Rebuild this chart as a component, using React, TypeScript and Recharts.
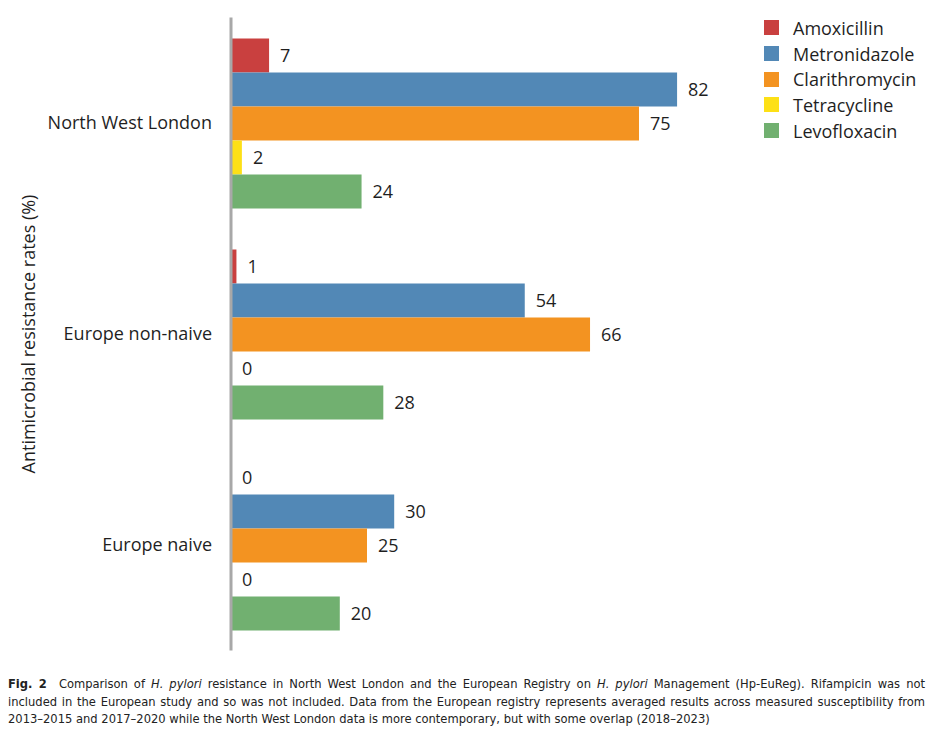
import React from 'react';
import { BarChart, Bar, XAxis, YAxis, LabelList, Label } from 'recharts';

// Categories and series values
const CATEGORIES = ['North West London', 'Europe non-naive', 'Europe naive'];
const AMOXICILLIN = [7, 1, 0];
const METRONIDAZOLE = [82, 54, 30];
const CLARITHROMYCIN = [75, 66, 25];
const TETRACYCLINE = [2, 0, 0];
const LEVOFLOXACIN = [24, 28, 20];

const SERIES = [
  { key: 'Amoxicillin', values: AMOXICILLIN, color: '#c9403f' },
  { key: 'Metronidazole', values: METRONIDAZOLE, color: '#5288b6' },
  { key: 'Clarithromycin', values: CLARITHROMYCIN, color: '#f39321' },
  { key: 'Tetracycline', values: TETRACYCLINE, color: '#fde016' },
  { key: 'Levofloxacin', values: LEVOFLOXACIN, color: '#71b070' },
];

const FONT = '"Open Sans", "Noto Sans", sans-serif';
const TEXT = '#1f1f1f';

const chartData = CATEGORIES.map((name, i) => {
  const row: Record<string, string | number> = { name };
  SERIES.forEach((s) => {
    row[s.key] = s.values[i];
  });
  return row;
});

function Legend() {
  return (
    <div style={{ position: 'absolute', left: 764, top: 15, fontFamily: FONT, fontSize: 18, color: TEXT }}>
      {SERIES.map((s) => (
        <div key={s.key} style={{ display: 'flex', alignItems: 'center', height: 25.7 }}>
          <span style={{ width: 15, height: 15, background: s.color, display: 'inline-block', marginRight: 14 }} />
          <span>{s.key}</span>
        </div>
      ))}
    </div>
  );
}

// justified caption lines (the original is set in a condensed face)
const lineJustify: React.CSSProperties = { textAlign: 'justify', textAlignLast: 'justify' as any };

export default function App() {
  return (
    <div style={{ position: 'absolute', left: 0, top: 0, width: 942, height: 736, background: '#fff' }}>
      <BarChart
        width={942}
        height={660}
        data={chartData}
        layout="vertical"
        margin={{ top: 17.5, right: 167, bottom: 9.5, left: 0 }}
        barSize={34}
        barGap={0}
      >
        <XAxis type="number" domain={[0, 100]} hide />
        <YAxis
          type="category"
          dataKey="name"
          width={231}
          axisLine={{ stroke: '#a8a8a8', strokeWidth: 3 }}
          tickLine={false}
          tickMargin={13}
          tick={{ fontFamily: FONT, fontSize: 18, fill: TEXT }}
        >
          <Label
            value="Antimicrobial resistance rates (%)"
            angle={-90}
            position="insideLeft"
            offset={29}
            style={{ fontFamily: FONT, fontSize: 18, fill: TEXT, textAnchor: 'middle' }}
          />
        </YAxis>
        {SERIES.map((s) => (
          <Bar key={s.key} dataKey={s.key} fill={s.color} minPointSize={0.01} isAnimationActive={false}>
            <LabelList
              dataKey={s.key}
              position="right"
              offset={11}
              style={{ fontFamily: FONT, fontSize: 18, fill: TEXT }}
            />
          </Bar>
        ))}
      </BarChart>
      <Legend />
      <div
        style={{
          position: 'absolute',
          left: 8,
          top: 675,
          width: 917,
          fontFamily: '"DejaVu Sans Condensed", "Liberation Sans Narrow", sans-serif',
          fontSize: 12.8,
          lineHeight: '17.5px',
          color: '#222',
        }}
      >
        <div style={lineJustify}>
          <b>Fig. 2</b>&nbsp; Comparison of <i>H. pylori</i> resistance in North West London and the European Registry on{' '}
          <i>H. pylori</i> Management (Hp-EuReg). Rifampicin was not
        </div>
        <div style={lineJustify}>
          included in the European study and so was not included. Data from the European registry represents averaged
          results across measured susceptibility from
        </div>
        <div>
          2013–2015 and 2017–2020 while the North West London data is more contemporary, but with some overlap
          (2018–2023)
        </div>
      </div>
    </div>
  );
}
